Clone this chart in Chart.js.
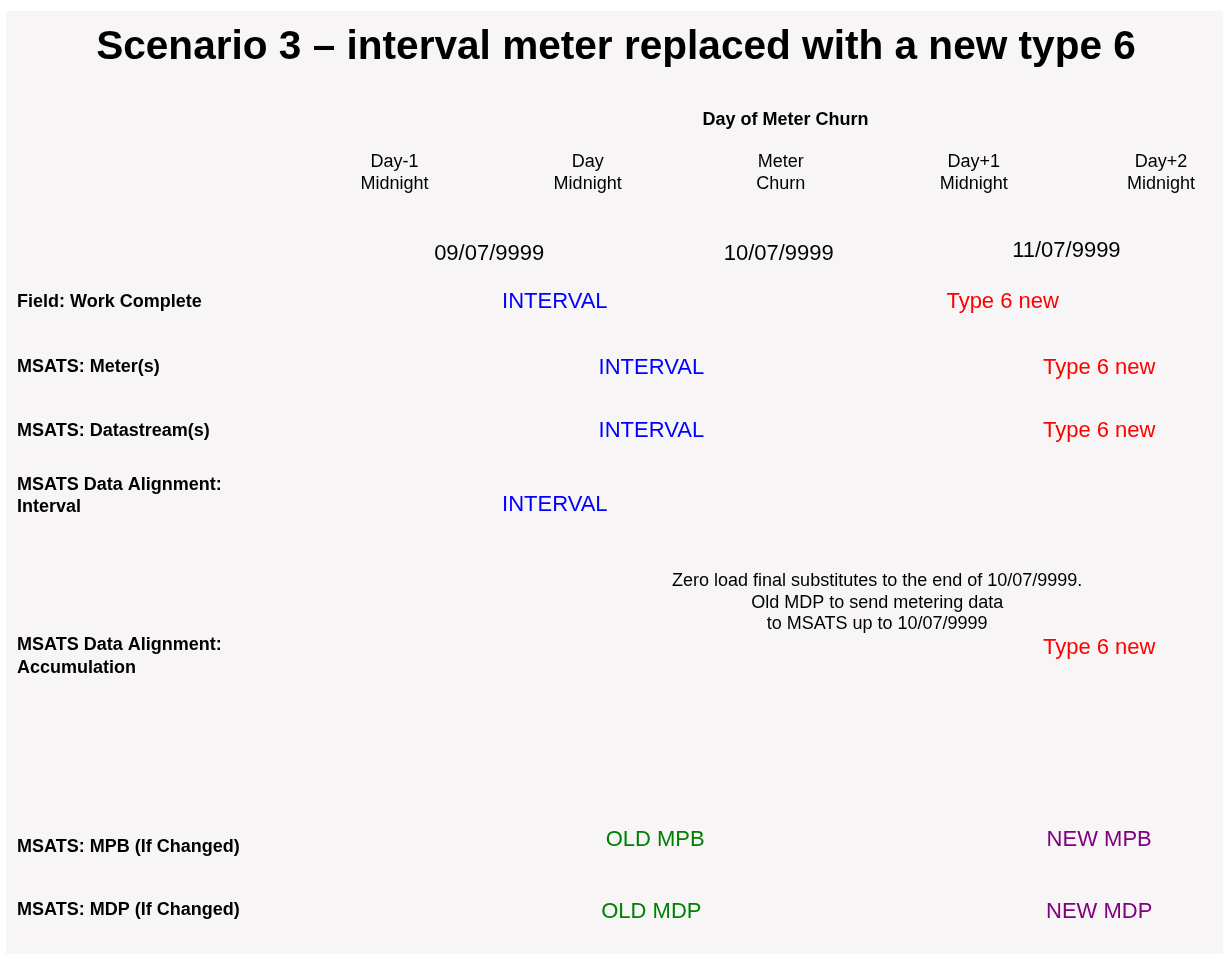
<!DOCTYPE html>
<html>
<head>
<meta charset="utf-8">
<title>Scenario 3</title>
<script src="https://cdn.jsdelivr.net/npm/chart.js@4/dist/chart.umd.min.js"></script>
<style>
  html, body { margin: 0; padding: 0; background: #ffffff; }
  #wrap { position: relative; width: 1225px; height: 961px; }
</style>
</head>
<body>
<div id="wrap"><canvas id="timelineChart"></canvas></div>
<script>
// time axis: 0 = Day-1 midnight, 1 unit = one day
const columnLabels = [['Day-1', 'Midnight'], ['Day', 'Midnight'], ['Meter', 'Churn'], ['Day+1', 'Midnight'], ['Day+2', 'Midnight']];
const columnPositions = [0, 1, 2, 3, 3.97];

// rows (0 at top)
const rowLabels = [
  'Field: Work Complete',
  'MSATS: Meter(s)',
  'MSATS: Datastream(s)',
  ['MSATS Data Alignment:', 'Interval'],
  ['MSATS Data Alignment:', 'Accumulation'],
  'MSATS: MPB (If Changed)',
  'MSATS: MDP (If Changed)'
];
const rowPositions = [1.08, 2.09, 3.08, 4.08, 6.57, 9.52, 10.51];

const dateLabels = ['09/07/9999', '10/07/9999', '11/07/9999'];
const dateX = [0.49, 1.99, 3.48];
const dateY = [0.33, 0.33, 0.29];

const intervalLabels = ['INTERVAL', 'INTERVAL', 'INTERVAL', 'INTERVAL'];
const intervalX = [0.83, 1.33, 1.33, 0.83];
const intervalY = [1.08, 2.1, 3.07, 4.22];

const type6Labels = ['Type 6 new', 'Type 6 new', 'Type 6 new', 'Type 6 new'];
const type6X = [3.15, 3.65, 3.65, 3.65];
const type6Y = [1.08, 2.1, 3.07, 6.44];

const oldLabels = ['OLD MPB', 'OLD MDP'];
const oldX = [1.35, 1.33];
const oldY = [9.42, 10.53];

const newLabels = ['NEW MPB', 'NEW MDP'];
const newX = [3.65, 3.65];
const newY = [9.42, 10.53];

const noteLabels = [['Zero load final substitutes to the end of 10/07/9999.', 'Old MDP to send metering data', 'to MSATS up to 10/07/9999']];
const noteX = [2.5];
const noteY = [5.74];

const FONT = "'Liberation Sans', Arial, sans-serif";

function toPoints(xs, ys) {
  return xs.map((x, i) => ({ x: x, y: ys[i] }));
}

function textSet(name, labels, xs, ys, color, size) {
  return {
    label: name,
    data: toPoints(xs, ys),
    texts: labels,
    textColor: color,
    textSize: size,
    pointRadius: 0,
    showLine: false
  };
}

// draws each point's text at the position the scales give it
const textLabelsPlugin = {
  id: 'textLabels',
  afterDatasetsDraw(chart) {
    const ctx = chart.ctx;
    chart.data.datasets.forEach((ds, di) => {
      const meta = chart.getDatasetMeta(di);
      ctx.save();
      ctx.fillStyle = ds.textColor;
      ctx.font = ds.textSize + 'px ' + FONT;
      ctx.textAlign = 'center';
      ctx.textBaseline = 'middle';
      meta.data.forEach((el, i) => {
        const t = ds.texts[i];
        const lines = Array.isArray(t) ? t : [t];
        const lh = ds.textSize * 1.2;
        const y0 = el.y - (lines.length - 1) * lh / 2;
        lines.forEach((line, k) => ctx.fillText(line, el.x, y0 + k * lh));
      });
      ctx.restore();
    });
  }
};

const backgroundPlugin = {
  id: 'panelBackground',
  beforeDraw(chart) {
    const ctx = chart.ctx;
    ctx.save();
    ctx.fillStyle = '#ffffff';
    ctx.fillRect(0, 0, chart.width, chart.height);
    ctx.fillStyle = '#f7f5f6';
    ctx.fillRect(6, 11, 1217, 943);
    ctx.restore();
  }
};

document.addEventListener('DOMContentLoaded', function () {
  const ctx = document.getElementById('timelineChart').getContext('2d');
  new Chart(ctx, {
    type: 'scatter',
    data: {
      datasets: [
        textSet('Dates', dateLabels, dateX, dateY, '#000000', 22),
        textSet('Interval', intervalLabels, intervalX, intervalY, '#0000ff', 22),
        textSet('Type 6', type6Labels, type6X, type6Y, '#ff0000', 22),
        textSet('Old', oldLabels, oldX, oldY, '#008000', 22),
        textSet('New', newLabels, newX, newY, '#800080', 22),
        textSet('Note', noteLabels, noteX, noteY, '#000000', 18)
      ]
    },
    options: {
      responsive: true,
      maintainAspectRatio: false,
      animation: false,
      events: [],
      layout: {
        padding: { left: 17, right: 10, top: 0, bottom: 19 }
      },
      scales: {
        x: {
          type: 'linear',
          position: 'top',
          min: -0.2,
          max: 4.25,
          border: { display: false },
          grid: { display: false, drawTicks: false },
          afterBuildTicks: function (scale) {
            scale.ticks = columnPositions.map(v => ({ value: v }));
          },
          afterFit: function (scale) {
            scale.height = 154;
            scale.paddingLeft = 0;
            scale.paddingRight = 0;
          },
          ticks: {
            autoSkip: false,
            maxRotation: 0,
            padding: 38,
            color: '#000000',
            font: { family: FONT, size: 18, lineHeight: 1.2 },
            callback: function (value, index) {
              return columnLabels[index];
            }
          },
          title: {
            display: true,
            text: 'Day of Meter Churn',
            color: '#000000',
            padding: { top: 31, bottom: 0 },
            font: { family: FONT, size: 18, weight: 'bold', lineHeight: 1.2 }
          }
        },
        y: {
          type: 'linear',
          position: 'left',
          min: 0,
          max: 11,
          reverse: true,
          border: { display: false },
          grid: { display: false, drawTicks: false },
          afterBuildTicks: function (scale) {
            scale.ticks = rowPositions.map(v => ({ value: v }));
          },
          afterFit: function (scale) {
            scale.width = 339;
            scale.paddingTop = 0;
            scale.paddingBottom = 0;
          },
          ticks: {
            autoSkip: false,
            crossAlign: 'far',
            color: '#000000',
            font: { family: FONT, size: 18, weight: 'bold', lineHeight: 1.25 },
            callback: function (value, index) {
              return rowLabels[index];
            }
          }
        }
      },
      plugins: {
        legend: { display: false },
        tooltip: { enabled: false },
        title: {
          display: true,
          text: 'Scenario 3 \u2013 interval meter replaced with a new type 6',
          color: '#000000',
          padding: { top: 23, bottom: 7 },
          font: { family: FONT, size: 40.6, weight: 'bold', lineHeight: 1.2 }
        }
      }
    },
    plugins: [backgroundPlugin, textLabelsPlugin]
  });
});
</script>
</body>
</html>
